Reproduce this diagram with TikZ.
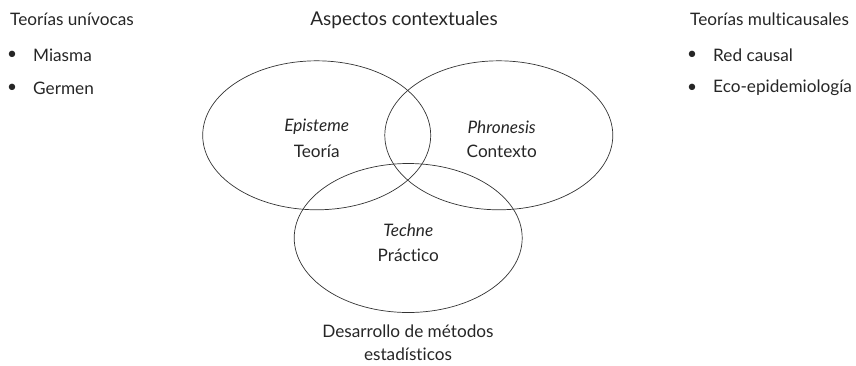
\documentclass[tikz,border=0pt]{standalone}
\usepackage{fontspec}
\setmainfont{Lato}[Ligatures={NoCommon,NoRare,NoDiscretionary}]
\usetikzlibrary{shapes.geometric}
\begin{document}
\begin{tikzpicture}[x=1pt,y=-1pt,
  txt/.style={inner sep=0pt,font=\fontsize{17.2}{20}\selectfont,text=black!85},
  head/.style={inner sep=0pt,font=\fontsize{19}{22}\selectfont,text=black!85},
  circ/.style={draw=black!80,line width=0.7pt,ellipse,minimum width=228pt,minimum height=149pt,inner sep=0pt}]
\useasboundingbox (0,0) rectangle (856,365);
% ellipses
\node[circ] (ep) at (316.7,135.3) {};
\node[circ] (ph) at (498.8,135.3) {};
\node[circ] (te) at (408.2,238) {};
% center labels
\node[txt] (epi) at (316.7,127) {\itshape Episteme};
\node[txt] (teo) at (316.7,151.7) {Teoría};
\node[txt] (phr) at (501.7,127) {\itshape Phronesis};
\node[txt] (con) at (501.7,151.7) {Contexto};
\node[txt] (tec) at (408.3,230.7) {\itshape Techne};
\node[txt] (pra) at (408.3,255) {Práctico};
% top heading
\node[head] (asp) at (404,20) {Aspectos contextuales};
% bottom
\node[txt] (des) at (408,331) {Desarrollo de métodos};
\node[txt] (est) at (408,354) {estadísticos};
% left list
\node[txt,anchor=west] (tu) at (10,19) {Teorías unívocas};
\node[txt] (b1) at (12,55) {•};
\node[txt,anchor=west] (mia) at (33,55) {Miasma};
\node[txt] (b2) at (12,88) {•};
\node[txt,anchor=west] (ger) at (33,88) {Germen};
% right list
\node[txt,anchor=west] (tm) at (690,19) {Teorías multicausales};
\node[txt] (b3) at (692,55) {•};
\node[txt,anchor=west] (red) at (713,55) {Red causal};
\node[txt] (b4) at (692,88) {•};
\node[txt,anchor=west] (eco) at (713,88) {Eco-epidemiología};
\end{tikzpicture}
\end{document}
